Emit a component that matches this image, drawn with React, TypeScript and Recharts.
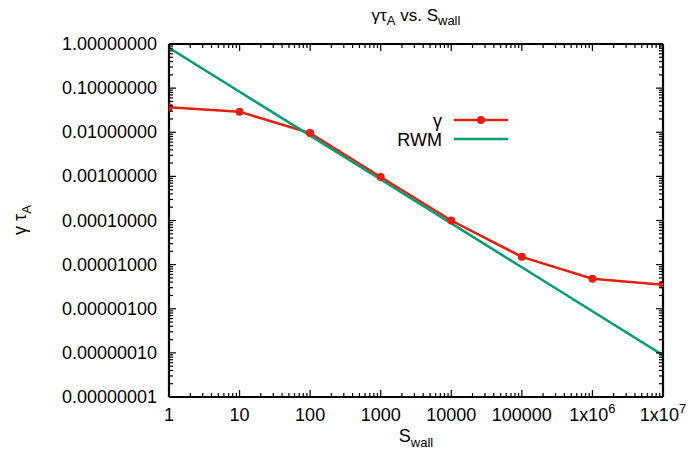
import React from "react";
import { LineChart, Line, XAxis, YAxis } from "recharts";

// S_wall values (x) and growth rates
const sWall = [1, 10, 100, 1000, 10000, 100000, 1e6, 1e7];
const gammaTau = [0.037, 0.029, 0.0096, 0.00097, 0.0001, 1.5e-5, 4.8e-6, 3.5e-6];
const rwmTau = [0.82, 0.083, 0.0084, 0.00085, 8.6e-5, 8.7e-6, 8.8e-7, 8.9e-8];

const xMajor = [1, 10, 100, 1000, 10000, 100000, 1e6, 1e7];
const yMajor = [1e-8, 1e-7, 1e-6, 1e-5, 1e-4, 1e-3, 1e-2, 1e-1, 1];

const RED = "#e51e10";
const GREEN = "#009e73";
const FONT = "'Liberation Sans', Arial, sans-serif";

const withMinors = (majors: number[]) => {
  const out: number[] = [];
  majors.forEach((m, i) => {
    out.push(m);
    if (i < majors.length - 1) {
      for (let k = 2; k <= 9; k++) out.push(+(m * k).toPrecision(3));
    }
  });
  return out;
};
const xTicks = withMinors(xMajor);
const yTicks = withMinors(yMajor);

const isMajor = (v: number) => {
  const l = Math.log10(v);
  return Math.abs(l - Math.round(l)) < 1e-6;
};

const data = sWall.map((s, i) => ({ s, gamma: gammaTau[i], rwm: rwmTau[i] }));

const xLabel = (v: number) => {
  const e = Math.round(Math.log10(v));
  if (e < 6) return <tspan>{String(v)}</tspan>;
  return (
    <>
      <tspan>1x10</tspan>
      <tspan dy={-8} fontSize={13}>
        {e}
      </tspan>
    </>
  );
};

const XTick = (props: any) => {
  const { x, y, payload, top } = props;
  const v = payload.value;
  const major = isMajor(v);
  const len = major ? 7 : 4;
  return (
    <g>
      <line x1={x} x2={x} y1={y} y2={top ? y + len : y - len} stroke="#000" strokeWidth={1.2} />
      {!top && major && (
        <text x={x} y={y + 24} textAnchor="middle" fontSize={18} fontFamily={FONT} fill="#000">
          {xLabel(v)}
        </text>
      )}
    </g>
  );
};

const YTick = (props: any) => {
  const { x, y, payload, right } = props;
  const v = payload.value;
  const major = isMajor(v);
  const len = major ? 7 : 4;
  return (
    <g>
      <line x1={x} x2={right ? x - len : x + len} y1={y} y2={y} stroke="#000" strokeWidth={1.2} />
      {!right && major && (
        <text x={x - 12} y={y + 6} textAnchor="end" fontSize={18} fontFamily={FONT} fill="#000">
          {v.toFixed(8)}
        </text>
      )}
    </g>
  );
};

const LegendBox = () => (
  <svg width={130} height={40} style={{ overflow: "visible" }}>
    <text x={57} y={7} textAnchor="end" fontSize={18} fontFamily={FONT}>
      γ
    </text>
    <line x1={69} x2={123} y1={0} y2={0} stroke={RED} strokeWidth={2.5} />
    <circle cx={96} cy={0} r={4} fill={RED} />
    <text x={57} y={26} textAnchor="end" fontSize={18} fontFamily={FONT}>
      RWM
    </text>
    <line x1={69} x2={123} y1={19} y2={19} stroke={GREEN} strokeWidth={2.5} />
  </svg>
);

const frame = { stroke: "#000", strokeWidth: 2.2 };

export default function App() {
  return (
    <div style={{ position: "relative", width: 695, height: 466, background: "#fff", fontFamily: FONT }}>
      <style>{"body{margin:0}"}</style>
      <LineChart
        width={695}
        height={466}
        data={data}
        margin={{ top: 0, right: 0, bottom: 0, left: 0 }}
        style={{ position: "absolute", left: 0, top: 0 }}
      >
        <XAxis
          xAxisId="b"
          dataKey="s"
          type="number"
          scale="log"
          domain={[1, 1e7]}
          allowDataOverflow
          ticks={xTicks}
          interval={0}
          height={69}
          tickSize={0}
          tickMargin={0}
          tick={<XTick />}
          axisLine={frame}
        />
        <XAxis
          xAxisId="t"
          orientation="top"
          dataKey="s"
          type="number"
          scale="log"
          domain={[1, 1e7]}
          allowDataOverflow
          ticks={xTicks}
          interval={0}
          height={44}
          tickSize={0}
          tickMargin={0}
          tick={<XTick top />}
          axisLine={frame}
        />
        <YAxis
          yAxisId="l"
          type="number"
          scale="log"
          domain={[1e-8, 1]}
          allowDataOverflow
          ticks={yTicks}
          interval={0}
          width={169}
          tickSize={0}
          tickMargin={0}
          tick={<YTick />}
          axisLine={frame}
        />
        <YAxis
          yAxisId="r"
          orientation="right"
          type="number"
          scale="log"
          domain={[1e-8, 1]}
          allowDataOverflow
          ticks={yTicks}
          interval={0}
          width={32}
          tickSize={0}
          tickMargin={0}
          tick={<YTick right />}
          axisLine={frame}
        />
        <Line
          xAxisId="b"
          yAxisId="l"
          dataKey="gamma"
          stroke={RED}
          strokeWidth={2.5}
          dot={{ r: 4, fill: RED, stroke: RED, strokeWidth: 0 }}
          isAnimationActive={false}
        />
        <Line
          xAxisId="b"
          yAxisId="l"
          dataKey="rwm"
          stroke={GREEN}
          strokeWidth={2.5}
          dot={false}
          isAnimationActive={false}
        />
      </LineChart>
      <div style={{ position: "absolute", left: 385, top: 120 }}>
        <LegendBox />
      </div>
      <div style={{ position: "absolute", left: 0, width: 832, top: 6, textAlign: "center", fontSize: 17 }}>
        γτ<sub style={{ fontSize: 13 }}>A</sub> vs. S<sub style={{ fontSize: 13 }}>wall</sub>
      </div>
      <div
        style={{
          position: "absolute",
          left: 22,
          top: 220,
          transform: "translate(-50%, -50%) rotate(-90deg)",
          fontSize: 18,
          whiteSpace: "nowrap",
        }}
      >
        γ τ<sub style={{ fontSize: 13 }}>A</sub>
      </div>
      <div style={{ position: "absolute", left: 0, width: 832, top: 426, textAlign: "center", fontSize: 18 }}>
        S<sub style={{ fontSize: 13 }}>wall</sub>
      </div>
    </div>
  );
}
